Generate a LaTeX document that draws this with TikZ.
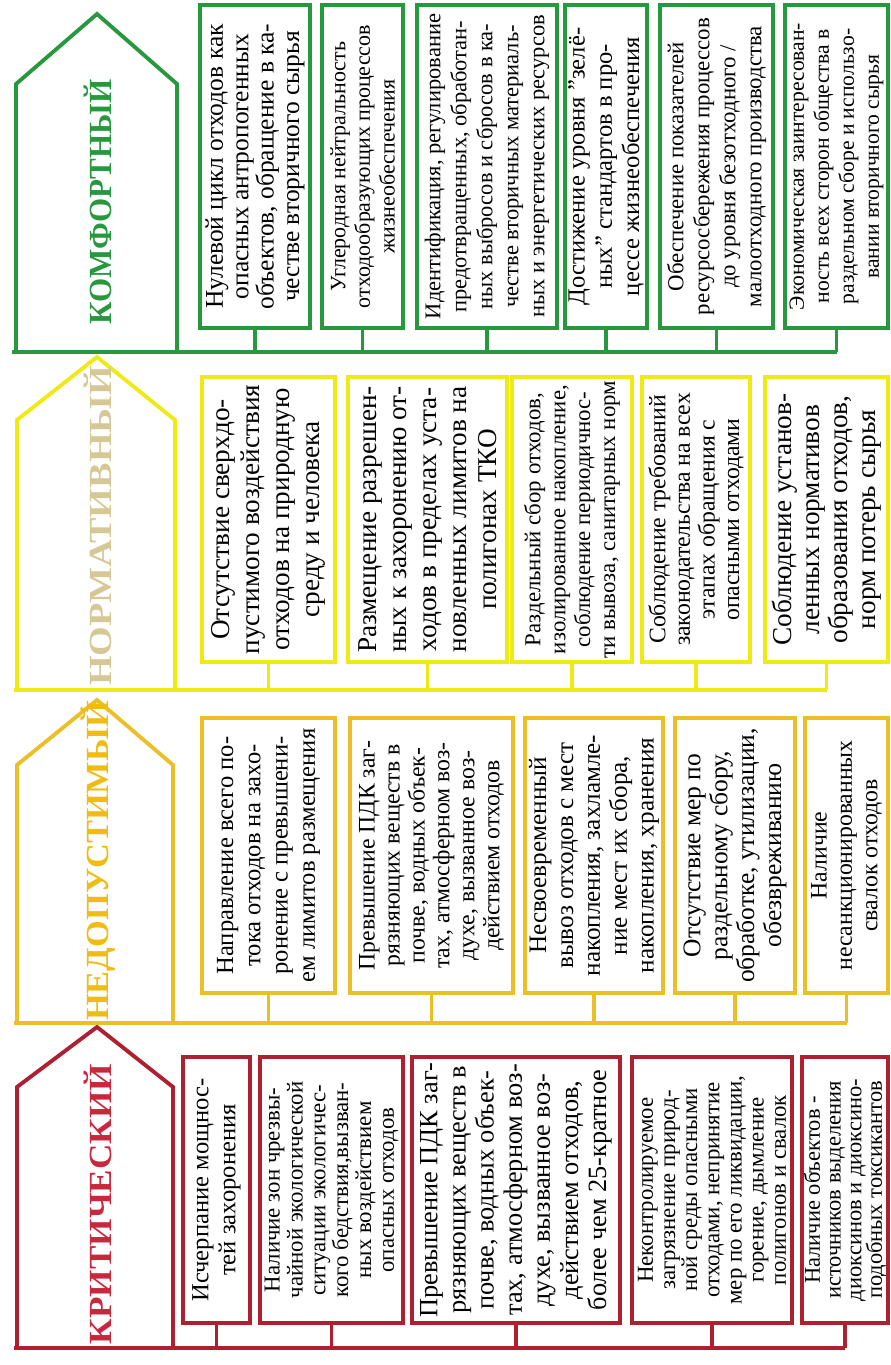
\documentclass[tikz,border=0pt]{standalone}
\usepackage{fontspec}
\setmainfont{Liberation Serif}
\usepackage{graphicx}
\usepackage{xcolor}

\definecolor{komf}{RGB}{40,152,62}
\definecolor{norm}{RGB}{240,234,20}
\definecolor{normtxt}{RGB}{214,200,150}
\definecolor{ned}{RGB}{236,190,40}
\definecolor{nedtxt}{RGB}{240,188,20}
\definecolor{krit}{RGB}{172,32,48}
\definecolor{krittxt}{RGB}{200,40,62}

\tikzset{
  lvl/.style={draw=#1, line width=2.5pt, rectangle, inner sep=1pt, align=center, rotate=90, fill=white},
  pent/.style={draw=#1, line width=2.2pt, line join=miter},
  bus/.style={draw=#1, line width=2.2pt},
  title/.style={text=#1, inner sep=0pt, rotate=90},
}
\newcommand\fs[2]{\fontsize{#1}{#2}\selectfont}

\begin{document}
\begin{tikzpicture}[x=0.02cm, y=-0.02cm]
\useasboundingbox (0,0) rectangle (890,1365);

% level outlines (arrows pointing up)
\draw[pent=komf] (16,352) -- (16,84) -- (97,14) -- (177,84) -- (177,352);
\draw[pent=norm] (17,690) -- (17,420) -- (97,357) -- (175,420) -- (175,690);
\draw[pent=ned] (17,1023) -- (17,765) -- (97,700) -- (173,765) -- (173,1023);
\draw[pent=krit] (17,1348) -- (17,1087) -- (97,1027) -- (173,1087) -- (173,1348);

\coordinate (gb) at (12,352);
\coordinate (nb) at (14,690);
\coordinate (db) at (14,1023);
\coordinate (kb) at (14,1348);

% level names
\node[title=komf] (tg) at (98,202) {\resizebox{4.9cm}{0.55cm}{\textbf{КОМФОРТНЫЙ}}};
\node[title=normtxt] (tn) at (98,526) {\resizebox{6.4cm}{0.55cm}{\textbf{НОРМАТИВНЫЙ}}};
\node[title=nedtxt] (td) at (98,861) {\resizebox{6.4cm}{0.55cm}{\textbf{НЕДОПУСТИМЫЙ}}};
\node[title=krittxt] (tk) at (98,1204) {\resizebox{5.6cm}{0.55cm}{\textbf{КРИТИЧЕСКИЙ}}};

% comfortable level
\node[lvl=komf, minimum width=6.46cm, minimum height=2.2cm, font=\fs{14.5}{14.5}] (g1) at (255,166.5)
  {Нулевой цикл отходов как\\опасных антропогенных\\объектов, обращение в ка-\\честве вторичного сырья};
\node[lvl=komf, minimum width=6.46cm, minimum height=1.62cm, font=\fs{12.5}{14}] (g2) at (362.5,166.5)
  {Углеродная нейтральность\\отходообразующих процессов\\жизнеобеспечения};
\node[lvl=komf, minimum width=6.46cm, minimum height=2.8cm, font=\fs{12.8}{14.8}] (g3) at (487,166.5)
  {Идентификация, регулирование\\предотвращенных, обработан-\\ных выбросов и сбросов в ка-\\честве вторичных материаль-\\ных и энергетических ресурсов};
\node[lvl=komf, minimum width=6.46cm, minimum height=1.64cm, font=\fs{14}{15.5}] (g4) at (606,166.5)
  {Достижение уровня "зелё-\\ных" стандартов в про-\\цессе жизнеобеспечения};
\node[lvl=komf, minimum width=6.46cm, minimum height=2.26cm, font=\fs{13}{14.8}] (g5) at (716.5,166.5)
  {Обеспечение показателей\\ресурсосбережения процессов\\до уровня безотходного /\\малоотходного производства};
\node[lvl=komf, minimum width=6.46cm, minimum height=2.06cm, font=\fs{12.3}{14.2}] (g6) at (836.5,166.5)
  {Экономическая заинтересован-\\ность всех сторон общества в\\раздельном сборе и использо-\\вании вторичного сырья};

% normative level
\node[lvl=norm, minimum width=5.7cm, minimum height=2.66cm, font=\fs{15.5}{17}] (n1) at (268.5,519.5)
  {Отсутствие сверхдо-\\пустимого воздействия\\отходов на природную\\среду и человека};
\node[lvl=norm, minimum width=5.7cm, minimum height=3.18cm, font=\fs{15.5}{17}] (n2) at (427.5,519.5)
  {Размещение разрешен-\\ных к захоронению от-\\ходов в пределах уста-\\новленных лимитов на\\полигонах ТКО};
\node[lvl=norm, minimum width=5.7cm, minimum height=2.4cm, font=\fs{13}{14.2}] (n3) at (572,519.5)
  {Раздельный сбор отходов,\\изолированное накопление,\\соблюдение периодичнос-\\ти вывоза, санитарных норм};
\node[lvl=norm, minimum width=5.7cm, minimum height=2.16cm, font=\fs{13.5}{14}] (n4) at (696,519.5)
  {Соблюдение требований\\законодательства на всех\\этапах обращения с\\опасными отходами};
\node[lvl=norm, minimum width=5.7cm, minimum height=2.46cm, font=\fs{15.5}{16}] (n5) at (826.5,519.5)
  {Соблюдение установ-\\ленных нормативов\\образования отходов,\\норм потерь сырья};

% unacceptable level
\node[lvl=ned, minimum width=5.5cm, minimum height=2.66cm, font=\fs{14}{15.5}] (d1) at (268.5,855.5)
  {Направление всего по-\\тока отходов на захо-\\ронение с превышени-\\ем лимитов размещения};
\node[lvl=ned, minimum width=5.5cm, minimum height=3.26cm, font=\fs{13.5}{14.2}] (d2) at (431.5,855.5)
  {Превышение ПДК заг-\\рязняющих веществ в\\почве, водных объек-\\тах, атмосферном воз-\\духе, вызванное воз-\\действием отходов};
\node[lvl=ned, minimum width=5.5cm, minimum height=2.76cm, font=\fs{14.3}{15.3}] (d3) at (594,855.5)
  {Несвоевременный\\вывоз отходов с мест\\накопления, захламле-\\ние мест их сбора,\\накопления, хранения};
\node[lvl=ned, minimum width=5.5cm, minimum height=2.4cm, font=\fs{14.5}{15.3}] (d4) at (735,855.5)
  {Отсутствие мер по\\раздельному сбору,\\обработке, утилизации,\\обезвреживанию};
\node[lvl=ned, minimum width=5.5cm, minimum height=1.66cm, font=\fs{13.5}{14.5}] (d5) at (846.5,855.5)
  {Наличие\\несанкционированных\\свалок отходов};

% critical level
\node[lvl=krit, minimum width=5.32cm, minimum height=1.34cm, font=\fs{14}{15.3}] (k1) at (216.5,1190)
  {Исчерпание мощнос-\\тей захоронения};
\node[lvl=krit, minimum width=5.32cm, minimum height=2.86cm, font=\fs{13}{13}] (k2) at (331.5,1190)
  {Наличие зон чрезвы-\\чайной экологической\\ситуации экологичес-\\кого бедствия,вызван-\\ных воздействием\\опасных отходов};
\node[lvl=krit, minimum width=5.32cm, minimum height=4.16cm, font=\fs{15}{16}] (k3) at (516,1190)
  {Превышение ПДК заг-\\рязняющих веществ в\\почве, водных объек-\\тах, атмосферном воз-\\духе, вызванное воз-\\действием отходов,\\более чем 25-кратное};
\node[lvl=krit, minimum width=5.32cm, minimum height=3.2cm, font=\fs{13}{12.6}] (k4) at (712,1190)
  {Неконтролируемое\\загрязнение природ-\\ной среды опасными\\отходами, непринятие\\мер по его ликвидации,\\горение, дымление\\полигонов и свалок};
\node[lvl=krit, minimum width=5.32cm, minimum height=1.72cm, font=\fs{12.8}{11.8}] (k5) at (845,1190)
  {Наличие объектов -\\источников выделения\\диоксинов и диоксино-\\подобных токсикантов};

% brackets joining the boxes to their level
\draw[bus=komf] (gb) -- (g6.west |- gb);
\foreach \b in {g1,g2,g3,g4,g5,g6}
  \draw[bus=komf] (\b.west) -- (\b.west |- gb);
\draw[bus=norm] (nb) -- (n5.west |- nb);
\foreach \b in {n1,n2,n3,n4,n5}
  \draw[bus=norm] (\b.west) -- (\b.west |- nb);
\draw[bus=ned] (db) -- (d5.west |- db);
\foreach \b in {d1,d2,d3,d4,d5}
  \draw[bus=ned] (\b.west) -- (\b.west |- db);
\draw[bus=krit] (kb) -- (k5.west |- kb);
\foreach \b in {k1,k2,k3,k4,k5}
  \draw[bus=krit] (\b.west) -- (\b.west |- kb);
\end{tikzpicture}
\end{document}
